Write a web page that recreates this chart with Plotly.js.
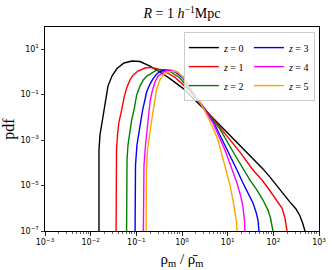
<!DOCTYPE html>
<html>
<head>
<meta charset="utf-8">
<script src="https://cdn.plot.ly/plotly-3.0.1.min.js"></script>
<style>html,body{margin:0;padding:0;background:#fff;}#chart{width:332px;height:270px;}</style>
</head>
<body>
<div id="chart"></div>
<script>
// Values, stored as log10(rho/rho_mean) and log10(pdf)
const redshifts = [0, 1, 2, 3, 4, 5];
const lineColors = ['#000000', '#ff0000', '#008000', '#0000ff', '#ff00ff', '#ffa500'];

const logRho_z0 = [-1.818,-1.818,-1.796,-1.752,-1.708,-1.664,-1.621,-1.533,-1.423,-1.270,-1.095,-0.920,-0.701,-0.482,-0.263,0.022,0.175,0.394,0.613,0.832,1.051,1.226,1.489,1.773,1.927,2.146,2.365,2.496,2.584,2.649,2.693,2.71];
const logPdf_z0 = [-7.5,-3.44,-2.78,-2.21,-1.68,-1.07,-0.63,-0.19,0.14,0.385,0.47,0.45,0.25,-0.01,-0.30,-0.73,-1.02,-1.46,-1.90,-2.34,-2.78,-3.13,-3.66,-4.27,-4.63,-5.20,-5.73,-6.03,-6.34,-6.69,-7.0,-7.5];

const logRho_z1 = [-1.445,-1.445,-1.434,-1.413,-1.380,-1.321,-1.270,-1.211,-1.139,-1.067,-0.964,-0.810,-0.701,-0.548,-0.372,-0.153,0.065,0.175,0.460,0.832,1.270,1.554,1.751,1.883,2.036,2.189,2.255,2.299,2.31];
const logPdf_z1 = [-7.5,-4.10,-3.44,-2.78,-2.21,-1.68,-1.15,-0.71,-0.36,-0.14,0.03,0.165,0.19,0.14,0.01,-0.25,-0.63,-0.85,-1.53,-2.43,-3.53,-4.32,-4.76,-5.11,-5.55,-5.99,-6.43,-7.0,-7.5];

const logRho_z2 = [-1.215,-1.215,-1.204,-1.183,-1.139,-1.102,-1.051,-0.992,-0.920,-0.848,-0.767,-0.664,-0.570,-0.482,-0.372,-0.263,-0.044,0.175,0.460,0.832,1.160,1.357,1.489,1.642,1.773,1.883,1.938,1.992,2.00];
const logPdf_z2 = [-7.5,-4.54,-3.88,-3.22,-2.56,-2.12,-1.68,-1.02,-0.63,-0.36,-0.19,-0.055,0.055,0.10,0.08,0.01,-0.275,-0.80,-1.53,-2.52,-3.66,-4.32,-4.76,-5.20,-5.64,-6.08,-6.43,-7.0,-7.5];

const logRho_z3 = [-1.029,-1.029,-1.018,-0.986,-0.942,-0.898,-0.861,-0.821,-0.773,-0.701,-0.629,-0.554,-0.482,-0.372,-0.263,-0.153,0.022,0.175,0.460,0.722,1.051,1.204,1.335,1.467,1.554,1.620,1.664,1.686,1.69];
const logPdf_z3 = [-7.5,-4.76,-4.10,-3.22,-2.56,-2.12,-1.68,-1.24,-0.88,-0.54,-0.29,-0.10,0.0,0.08,0.055,-0.01,-0.275,-0.76,-1.53,-2.34,-3.66,-4.32,-4.89,-5.42,-5.77,-6.16,-6.52,-7.0,-7.5];

const logRho_z4 = [-0.848,-0.848,-0.832,-0.799,-0.767,-0.738,-0.716,-0.701,-0.657,-0.591,-0.526,-0.445,-0.372,-0.307,-0.219,-0.110,0.022,0.175,0.460,0.679,0.941,1.095,1.204,1.292,1.335,1.368,1.379,1.385];
const logPdf_z4 = [-7.5,-4.98,-4.10,-3.22,-2.56,-2.03,-1.68,-1.33,-0.89,-0.45,-0.19,-0.055,0.03,0.08,0.065,-0.01,-0.23,-0.67,-1.53,-2.25,-3.44,-4.32,-4.89,-5.51,-5.95,-6.52,-7.0,-7.5];

const logRho_z5 = [-0.788,-0.788,-0.778,-0.756,-0.723,-0.679,-0.629,-0.591,-0.554,-0.482,-0.410,-0.307,-0.191,-0.088,0.028,0.131,0.247,0.466,0.650,0.788,0.876,0.963,1.051,1.116,1.160,1.193,1.204,1.21];
const logPdf_z5 = [-7.5,-5.20,-4.32,-3.44,-2.87,-2.34,-1.68,-1.15,-0.76,-0.36,-0.14,-0.01,0.03,-0.03,-0.25,-0.54,-0.88,-1.59,-2.34,-3.0,-3.66,-4.32,-4.98,-5.64,-6.16,-6.60,-7.0,-7.5];

const xTickExponents = [-3, -2, -1, 0, 1, 2, 3];
const yTickExponents = [-7, -5, -3, -1, 1];

const allLogRho = [logRho_z0, logRho_z1, logRho_z2, logRho_z3, logRho_z4, logRho_z5];
const allLogPdf = [logPdf_z0, logPdf_z1, logPdf_z2, logPdf_z3, logPdf_z4, logPdf_z5];
const legendRanks = [1, 3, 5, 2, 4, 6];

const pow10 = v => Math.pow(10, v);
const expLabel = e => '10<sup>' + (e < 0 ? '\u2212' + (-e) : e) + '</sup>';

const traces = redshifts.map((z, i) => ({
  type: 'scatter',
  mode: 'lines',
  x: allLogRho[i].map(pow10),
  y: allLogPdf[i].map(pow10),
  name: '<i>z</i> = ' + z,
  legendgroup: i < 3 ? 'colA' : 'colB',
  legendrank: legendRanks[i],
  line: {color: lineColors[i], width: 1.4},
  hoverinfo: 'skip'
}));

const axisCommon = {
  type: 'log',
  showline: true,
  mirror: true,
  linecolor: '#000',
  linewidth: 1,
  showgrid: false,
  zeroline: false,
  ticks: 'outside',
  ticklen: 3.5,
  tickwidth: 0.8,
  tickcolor: '#000',
  tickmode: 'array',
  tickfont: {family: 'DejaVu Sans', size: 8, color: '#000'}
};

const layout = {
  width: 332,
  height: 270,
  margin: {l: 45, r: 13, t: 27, b: 39, pad: 0},
  paper_bgcolor: '#fff',
  plot_bgcolor: '#fff',
  showlegend: true,
  title: {
    text: '<i>R</i> = 1 <i>h</i><sup>\u22121</sup>Mpc',
    font: {family: 'Liberation Serif', size: 14, color: '#000'},
    x: 0.5, xref: 'paper', xanchor: 'center',
    y: 0.95, yref: 'container', yanchor: 'middle'
  },
  xaxis: Object.assign({}, axisCommon, {
    range: [-3, 3],
    tickvals: xTickExponents.map(pow10),
    ticktext: xTickExponents.map(expLabel),
    minor: {ticks: 'outside', ticklen: 2, tickwidth: 0.6, tickcolor: '#000', dtick: 'D1'},
    title: {text: '\u03c1<sub>m</sub> / \u03c1\u0304<sub>m</sub>', font: {family: 'Liberation Serif', size: 15, color: '#000'}, standoff: 7}
  }),
  yaxis: Object.assign({}, axisCommon, {
    range: [-7, 1.967],
    tickvals: yTickExponents.map(pow10),
    ticktext: yTickExponents.map(expLabel),
    title: {text: 'pdf', font: {family: 'Liberation Serif', size: 16, color: '#000'}, standoff: 6}
  }),
  legend: {
    orientation: 'h',
    traceorder: 'grouped',
    x: 0.985, xanchor: 'right',
    y: 0.975, yanchor: 'top',
    bgcolor: 'rgba(255,255,255,0.8)',
    bordercolor: '#cccccc',
    borderwidth: 1,
    entrywidth: 20,
    tracegroupgap: 0,
    font: {family: 'Liberation Serif', size: 10, color: '#000'}
  }
};

Plotly.newPlot('chart', traces, layout, {displayModeBar: false, staticPlot: true});
</script>
</body>
</html>
